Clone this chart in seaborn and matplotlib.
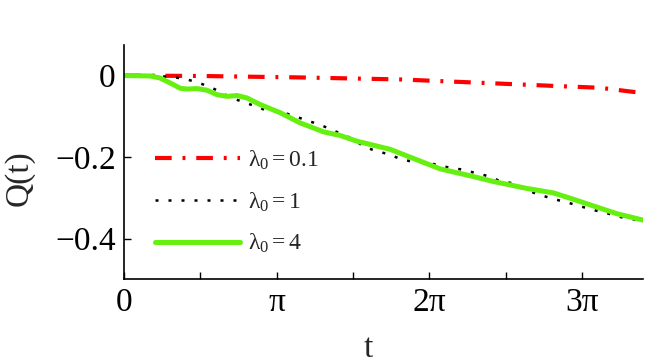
import numpy as np
import pandas as pd
import matplotlib
matplotlib.use("Agg")
import matplotlib.pyplot as plt
import seaborn as sns

# ---- data ----
t_red = [0.0, 1.562, 3.622, 5.682, 7.392, 8.772, 9.802, 10.481, 10.69]
q_red = [0.0, -0.001, -0.0046, -0.0095, -0.018, -0.025, -0.030, -0.040, -0.042]

t_black = [0.0, 0.600, 1.012, 1.253, 1.506, 1.753, 1.974, 2.215, 2.454, 2.695,
           2.936, 3.210, 3.484, 3.725, 3.966, 4.225, 4.481, 4.720, 4.940, 5.187,
           5.441, 5.696, 5.956, 6.232, 6.506, 6.747, 6.986, 7.227, 7.468, 7.727,
           7.983, 8.222, 8.463, 8.704, 8.943, 9.198, 9.458, 9.699, 9.973, 10.214,
           10.626]
q_black = [0.0, 0.000, -0.004, -0.008, -0.017, -0.027, -0.040, -0.055, -0.065, -0.075,
           -0.086, -0.089, -0.098, -0.109, -0.118, -0.130, -0.144, -0.156, -0.175, -0.185,
           -0.193, -0.205, -0.212, -0.213, -0.221, -0.227, -0.231, -0.239, -0.246, -0.258,
           -0.264, -0.278, -0.289, -0.298, -0.306, -0.314, -0.323, -0.331, -0.339, -0.347,
           -0.356]

t_green = [0.0, 0.531, 0.738, 0.944, 1.150, 1.294, 1.500, 1.706, 1.912, 2.118,
           2.323, 2.529, 2.797, 3.209, 3.621, 4.102, 4.446, 4.790, 5.202, 5.476,
           5.820, 6.162, 6.506, 7.124, 7.604, 8.292, 8.840, 9.184, 9.664, 10.146,
           10.694]
q_green = [0.0, -0.001, -0.006, -0.018, -0.031, -0.033, -0.032, -0.036, -0.047, -0.051,
           -0.049, -0.055, -0.071, -0.091, -0.116, -0.138, -0.147, -0.161, -0.173, -0.181,
           -0.197, -0.213, -0.229, -0.246, -0.260, -0.277, -0.288, -0.301, -0.320, -0.339,
           -0.355]

labels = [r"$\lambda_0 = 0.1$", r"$\lambda_0 = 1$", r"$\lambda_0 = 4$"]
xtick_vals = [0, np.pi / 2, np.pi, 3 * np.pi / 2, 2 * np.pi, 5 * np.pi / 2, 3 * np.pi]
xtick_labels = ["0", "", "π", "", "2π", "", "3π"]
ytick_vals = [0, -0.2, -0.4]
ytick_labels = ["0", "\u22120.2", "\u22120.4"]

# ---- style ----
sns.set_style("ticks")
plt.rcParams["font.family"] = ["Liberation Serif", "DejaVu Serif"]
plt.rcParams["mathtext.fontset"] = "custom"
plt.rcParams["mathtext.rm"] = "Liberation Serif"
plt.rcParams["mathtext.it"] = "Liberation Serif"
plt.rcParams["mathtext.bf"] = "Liberation Serif:bold"

fig = plt.figure(figsize=(6.64, 3.64), dpi=100)
ax = fig.add_axes([124.2 / 664, 1 - 279.3 / 364, (643.3 - 124.2) / 664, (279.3 - 45) / 364])

sns.lineplot(x=t_red, y=q_red, ax=ax, color="#ff0000", linewidth=3.0,
             linestyle=(0, (4, 2.6, 0.7, 2.6)), label=labels[0], sort=False)
sns.lineplot(x=t_black, y=q_black, ax=ax, color="black", linewidth=1.8,
             linestyle=(0, (1.2, 4.0)), label=labels[1], sort=False)
sns.lineplot(x=t_green, y=q_green, ax=ax, color="#66f010", linewidth=3.6,
             linestyle="-", label=labels[2], sort=False)

ax.set_xlim(0, 10.69)
ax.set_ylim(-0.5, 0.075)
ax.set_xticks(xtick_vals)
ax.set_xticklabels(xtick_labels)
ax.set_yticks(ytick_vals)
ax.set_yticklabels(ytick_labels)
ax.tick_params(axis="both", direction="in", length=5, width=1, labelsize=24,
               colors="black")
ax.tick_params(axis="y", pad=6)
ax.tick_params(axis="x", pad=6)

for side in ["top", "right"]:
    ax.spines[side].set_visible(False)
for side in ["left", "bottom"]:
    ax.spines[side].set_linewidth(1.2)
    ax.spines[side].set_color("black")

ax.set_xlabel("t", fontsize=24)
ax.set_ylabel("Q(t)", fontsize=24)
ax.xaxis.set_label_coords(0.47, -0.232)
ax.yaxis.set_label_coords(-0.172, 0.43)

leg = ax.legend(loc="upper left", bbox_to_anchor=(0.059, 0.558), frameon=False,
                fontsize=17, handlelength=3.6, handletextpad=0.35,
                labelspacing=0.78, borderpad=0, borderaxespad=0)

fig.savefig("out.png", dpi=100)
